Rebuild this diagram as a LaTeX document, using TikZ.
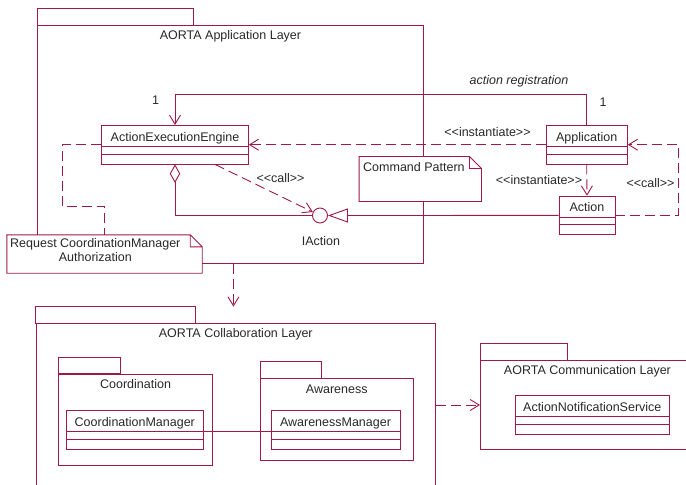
\documentclass[tikz,border=0pt]{standalone}
\usepackage{fontspec}
\setmainfont{Liberation Sans}[Ligatures=TeXOff]
\usetikzlibrary{arrows.meta,positioning}
\definecolor{umlred}{RGB}{160,24,72}
\definecolor{umltext}{RGB}{40,40,40}
\newcommand{\umlfont}{\fontsize{12.5}{14}\selectfont}

\newcommand{\umlclass}[5]{%
  \node[classbox,minimum width=#4] (#1) at (#2,#3) {};
  \node[classname] (#1-name) at ([yshift=-16pt]#1.north) {#5};
  \draw[umlline] ([yshift=-21.5pt]#1.north west) -- ([yshift=-21.5pt]#1.north east)
    ([yshift=-29pt]#1.north west) -- ([yshift=-29pt]#1.north east);
}
\newcommand{\umlpackage}[8]{%
  \node[pkgbody,minimum width=#4,minimum height=#5] (#1) at (#2,#3) {};
  \draw[umlline] (#1.north west) rectangle ([shift={(#6pt,16.7pt)}]#1.north west);
  \node[pkglabel] (#8) at ([yshift=-10.8pt]#1.north) {#7};
}
\newcommand{\notefold}[1]{%
  \draw[umlline] (#1.north west) -- ([xshift=-12pt]#1.north east) -- ([yshift=-12pt]#1.north east)
    -- (#1.south east) -- (#1.south west) -- cycle
    ([xshift=-12pt]#1.north east) |- ([yshift=-12pt]#1.north east);
}

\begin{document}
\begin{tikzpicture}[x=1pt,y=-1pt]

    \tikzset{
      every node/.style={font=\umlfont},
      umlline/.style={draw=umlred, line width=0.9pt},
      classbox/.style={umlline, anchor=north, minimum height=38.5, inner sep=0pt},
      classname/.style={anchor=base, inner sep=0pt, text=umltext},
      pkgbody/.style={umlline, anchor=north west, inner sep=0pt},
      pkglabel/.style={text=umltext, inner sep=0pt},
      notebox/.style={fill=white, inner sep=0pt},
      lbl/.style={text=umltext, inner sep=0pt},
      iface/.style={umlline, circle, minimum size=15, inner sep=0pt, fill=white},
      depend/.style={umlline, dash pattern=on 10pt off 5pt, -{Straight Barb[length=9pt,width=11pt]}},
      assoc/.style={umlline, -{Straight Barb[length=9pt,width=11pt]}},
      realize/.style={umlline, -{Triangle[open,length=20pt,width=14pt,fill=white]}},
      aggreg/.style={umlline, {Diamond[open,length=18.5pt,width=10.5pt,fill=white]}-},
      notelink/.style={umlline, dash pattern=on 10pt off 5pt},
    }
    \useasboundingbox (0,0) rectangle (686,485);
    \clip (0,0) rectangle (686,485);

    \umlpackage{applayer}{37}{25}{386}{238}{156}{AORTA Application Layer}{applabel}
    \umlpackage{collab}{35.7}{323.3}{399.3}{180}{160}{AORTA Collaboration Layer}{collablabel}
    \umlpackage{coordpkg}{58.3}{373.7}{153.7}{91.3}{62}{Coordination}{coordlabel}
    \umlpackage{awarepkg}{260}{378.3}{152.7}{81.7}{61}{Awareness}{awarelabel}
    \umlpackage{commlayer}{480}{360}{214}{89}{87}{AORTA Communication Layer}{commlabel}
    \coordinate (collabtop) at ([yshift=16.7pt]collab.north);

    \umlclass{aee}{175}{125}{146.7}{ActionExecutionEngine}
    \umlclass{app}{586.7}{125}{81.3}{Application}
    \umlclass{action}{587}{195.7}{56}{Action}
    \umlclass{coordmgr}{134.8}{410}{136.3}{CoordinationManager}
    \umlclass{awaremgr}{335.5}{410}{129}{AwarenessManager}
    \umlclass{ans}{592.3}{395}{153.3}{ActionNotificationService}
    \node[iface] (iaction) at (320,215.5) {};
    \node[lbl] (iactionlabel) at (321,241) {IAction};

    \node[notebox, minimum width=195, minimum height=38] (reqnote) at (104.5,254) {};
    \notefold{reqnote}
    \node[lbl, anchor=north west, align=center] (reqtext) at (10,238.5) {Request CoordinationManager\\Authorization};
    \node[notebox, minimum width=122, minimum height=44.6] (cmdnote) at (420.3,179) {};
    \notefold{cmdnote}
    \node[lbl, anchor=west] (cmdtext) at (363,167) {Command Pattern};

    \draw[assoc] (app.north) -- (app.north |- 0,94.3) -| (aee.north);
    \node[lbl] (oneaee) at (155.5,100) {1};
    \node[lbl] (oneapp) at (603,102) {1};
    \node[lbl, font=\umlfont\itshape] (actreg) at (519,81) {action registration};

    \draw[depend] (app.west) -- (aee.east);
    \node[lbl] (instaee) at (487.5,131.7) {<<instantiate>>};
    \draw[depend] (app.south) -- (action.north);
    \node[lbl] (instact) at (539,180) {<<instantiate>>};
    \draw[depend] (action.east) -- ++(63,0) |- (app.east);
    \node[lbl] (callapp) at (650.5,182.7) {<<call>>};
    \draw[depend] ([xshift=40pt]aee.south) -- (iaction);
    \node[lbl] (calliface) at (280.5,178) {<<call>>};
    \draw[aggreg] (aee.south) |- (iaction.west);
    \draw[realize] (action.west) -- (iaction.east);
    \draw[notelink] (aee.west) -| (62,206) -| (reqnote.north);

    \draw[depend] ([xshift=3pt]applayer.south) -- ([xshift=3pt]applayer.south |- collabtop);
    \draw[depend] (collab.east |- 0,405) -- (commlayer.west |- 0,405);
    \draw[umlline] ([yshift=-1.5pt]coordmgr.east) -- ([yshift=-1.5pt]awaremgr.west);

\end{tikzpicture}
\end{document}
